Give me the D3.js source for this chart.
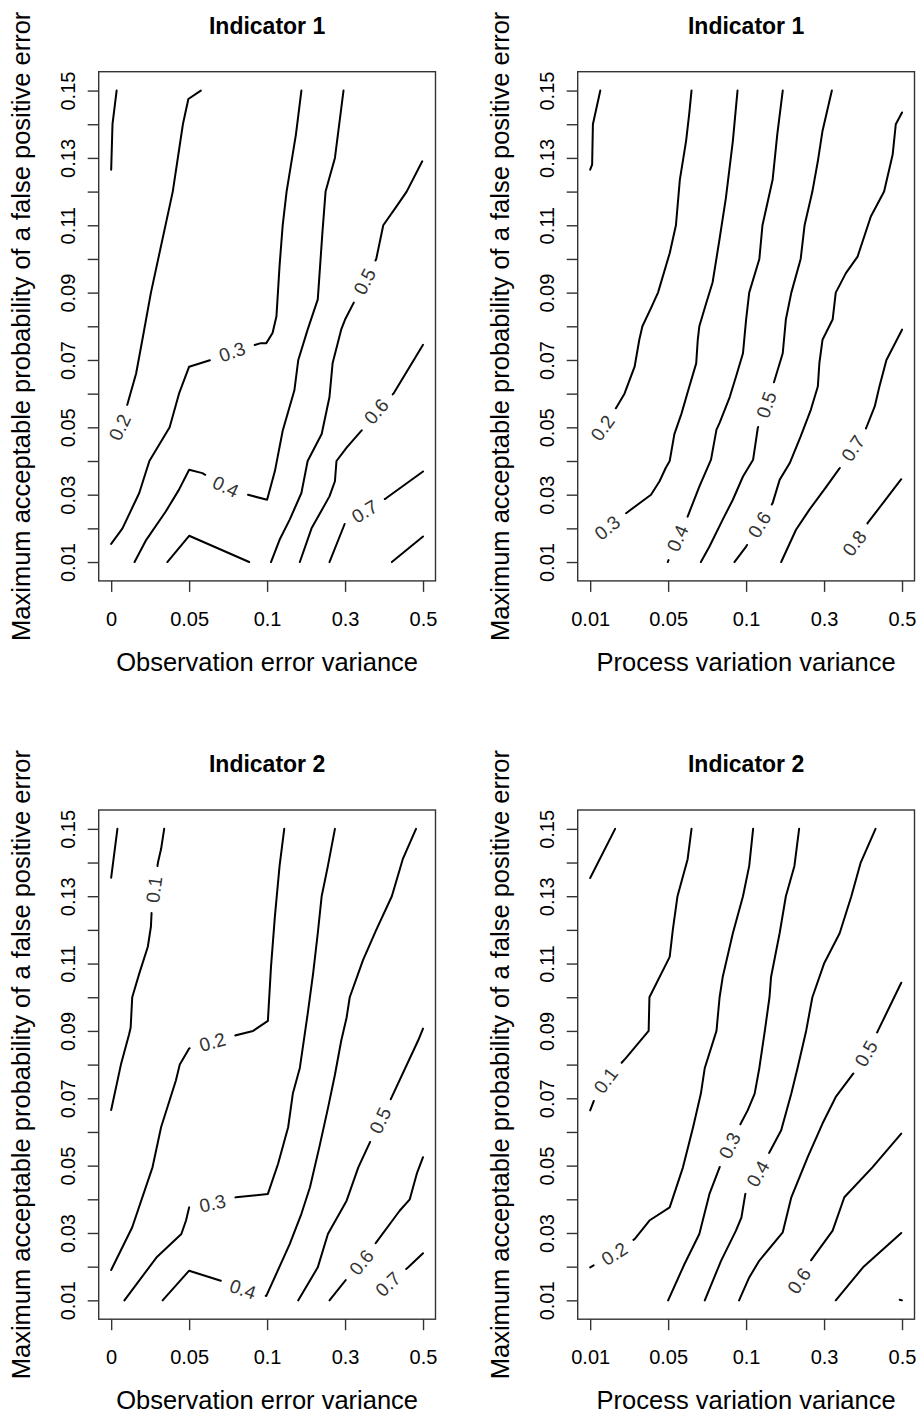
<!DOCTYPE html>
<html>
<head>
<meta charset="utf-8">
<script src="https://cdn.jsdelivr.net/npm/d3@7"></script>
<style>
  body { margin: 0; background: #fff; }
  svg { display: block; font-family: "Liberation Sans", Arial, sans-serif; }
</style>
</head>
<body>
<script>
// axis ticks (x is an index over the variance grid)
const xTickIndex = [0, 1, 2, 3, 4];
const obsTickLabels = ["0", "0.05", "0.1", "0.3", "0.5"];
const procTickLabels = ["0.01", "0.05", "0.1", "0.3", "0.5"];
const yTicks = [0.01, 0.02, 0.03, 0.04, 0.05, 0.06, 0.07, 0.08, 0.09, 0.10, 0.11, 0.12, 0.13, 0.14, 0.15];
const yLabelled = [0.01, 0.03, 0.05, 0.07, 0.09, 0.11, 0.13, 0.15];

const titles = ["Indicator 1", "Indicator 1", "Indicator 2", "Indicator 2"];
const xTitles = ["Observation error variance", "Process variation variance",
                 "Observation error variance", "Process variation variance"];
const yTitle = "Maximum acceptable probability of a false positive error";

// contour lines: [x index, probability]; lab = vertex where the label sits
const obsInd1 = [
  {level: 0.1, lab: null, pts: [[0.07,0.15],[0.017,0.14],[0,0.1265]]},
  {level: 0.2, lab: 8, pts: [[1.15,0.15],[0.99,0.1475],[0.92,0.14],[0.79,0.12],[0.51,0.09],[0.40,0.076],[0.32,0.066],[0.21,0.057],[0.11,0.05],[0,0.046]]},
  {level: 0.3, lab: 9, pts: [[2.44,0.15],[2.37,0.137],[2.25,0.12],[2.2,0.11],[2.16,0.098],[2.12,0.083],[2.07,0.078],[1.99,0.075],[1.92,0.075],[1.55,0.0724],[1.28,0.07],[1.0,0.068],[0.87,0.06],[0.75,0.05],[0.49,0.04],[0.36,0.0305],[0.145,0.02],[0,0.0154]]},
  {level: 0.4, lab: 12, pts: [[2.98,0.15],[2.87,0.13],[2.75,0.12],[2.71,0.108],[2.65,0.088],[2.52,0.079],[2.40,0.07],[2.35,0.061],[2.2,0.049],[2.1,0.037],[2.0,0.0285],[1.75,0.03],[1.47,0.0324],[1.17,0.0364],[1.0,0.0374],[0.87,0.0315],[0.70,0.025],[0.45,0.0166],[0.3,0.01]]},
  {level: 0.5, lab: null, pts: [[0.72,0.01],[1.0,0.0178],[1.77,0.01]]},
  {level: 0.5, lab: 5, pts: [[3.99,0.129],[3.79,0.12],[3.66,0.1156],[3.49,0.11],[3.40,0.1],[3.25,0.0933],[3.12,0.0874],[3.0,0.082],[2.95,0.079],[2.84,0.069],[2.8,0.059],[2.7,0.048],[2.52,0.04],[2.44,0.0305],[2.29,0.0226],[2.16,0.0166],[2.05,0.01]]},
  {level: 0.6, lab: 2, pts: [[4,0.0745],[3.62,0.06],[3.4,0.0547],[3.21,0.049],[3.02,0.044],[2.89,0.04],[2.87,0.034],[2.8,0.0295],[2.57,0.02],[2.42,0.01]]},
  {level: 0.7, lab: 2, pts: [[4,0.0369],[3.53,0.029],[3.25,0.025],[3.0,0.0216],[2.8,0.01]]},
  {level: 0.8, lab: null, pts: [[4,0.0176],[3.6,0.01]]}
];

const procInd1 = [
  {level: 0.1, lab: null, pts: [[0.13,0.15],[0.035,0.14],[0.025,0.128],[0,0.1265]]},
  {level: 0.2, lab: 13, pts: [[1.3,0.15],[1.27,0.143],[1.23,0.135],[1.15,0.1235],[1.1,0.11],[1.02,0.1017],[0.87,0.09],[0.78,0.0854],[0.67,0.08],[0.63,0.076],[0.57,0.068],[0.44,0.06],[0.33,0.0557],[0.16,0.0498],[0,0.045]]},
  {level: 0.3, lab: 17, pts: [[1.89,0.15],[1.83,0.135],[1.74,0.118],[1.66,0.106],[1.57,0.093],[1.49,0.087],[1.4,0.08],[1.38,0.076],[1.36,0.069],[1.27,0.062],[1.17,0.054],[1.08,0.048],[1.02,0.04],[0.97,0.038],[0.89,0.034],[0.78,0.03],[0.46,0.0245],[0.22,0.0202],[0,0.0158]]},
  {level: 0.4, lab: 15, pts: [[2.47,0.15],[2.4,0.137],[2.34,0.1235],[2.21,0.11],[2.17,0.1],[2.04,0.09],[2.0,0.082],[1.96,0.072],[1.87,0.065],[1.79,0.059],[1.66,0.0513],[1.62,0.0493],[1.55,0.0404],[1.4,0.0324],[1.25,0.0235],[1.12,0.0171],[0.995,0.01]]},
  {level: 0.5, lab: 10, pts: [[3.1,0.15],[2.98,0.138],[2.92,0.129],[2.85,0.12],[2.75,0.11],[2.7,0.1],[2.58,0.09],[2.51,0.082],[2.47,0.072],[2.36,0.0636],[2.26,0.0567],[2.15,0.0498],[2.09,0.0404],[1.96,0.0354],[1.83,0.0285],[1.7,0.0226],[1.53,0.0146],[1.42,0.01]]},
  {level: 0.6, lab: 17, pts: [[4,0.1435],[3.92,0.14],[3.88,0.131],[3.77,0.12],[3.6,0.1126],[3.43,0.1007],[3.28,0.0958],[3.15,0.09],[3.11,0.082],[2.98,0.076],[2.94,0.0691],[2.92,0.0621],[2.83,0.0552],[2.7,0.0473],[2.56,0.0394],[2.43,0.0344],[2.34,0.0275],[2.17,0.0211],[2.0,0.0146],[1.85,0.01]]},
  {level: 0.7, lab: 5, pts: [[4,0.079],[3.8,0.07],[3.71,0.0621],[3.65,0.0562],[3.54,0.0498],[3.37,0.0438],[3.2,0.0379],[3.03,0.0324],[2.81,0.0255],[2.64,0.0196],[2.45,0.01]]},
  {level: 0.8, lab: 2, pts: [[3.99,0.0346],[3.56,0.0216],[3.39,0.0156],[3.28,0.0128]]}
];

const obsInd2 = [
  {level: 0.0, lab: null, pts: [[0.08,0.15],[0,0.1355]]},
  {level: 0.1, lab: 3, pts: [[0.68,0.15],[0.64,0.144],[0.6,0.14],[0.55,0.132],[0.52,0.126],[0.51,0.121],[0.47,0.115],[0.36,0.107],[0.27,0.1],[0.25,0.091],[0.23,0.089],[0.125,0.08],[0,0.0665]]},
  {level: 0.2, lab: 7, pts: [[2.22,0.15],[2.16,0.139],[2.1,0.124],[2.05,0.109],[2.01,0.093],[1.82,0.09],[1.6,0.0887],[1.3,0.0867],[1.0,0.0848],[0.88,0.08],[0.83,0.0753],[0.64,0.0614],[0.53,0.0495],[0.27,0.0317],[0,0.019]]},
  {level: 0.3, lab: 12, pts: [[2.87,0.15],[2.78,0.139],[2.7,0.13],[2.65,0.119],[2.59,0.107],[2.52,0.095],[2.42,0.079],[2.33,0.0714],[2.27,0.0614],[2.14,0.0505],[2.01,0.0416],[1.6,0.0406],[1.3,0.0388],[1.0,0.0376],[0.96,0.0337],[0.9,0.0297],[0.58,0.0227],[0.17,0.01]]},
  {level: 0.4, lab: 15, pts: [[3.91,0.15],[3.74,0.141],[3.6,0.13],[3.4,0.12],[3.23,0.111],[3.06,0.1],[3.02,0.094],[2.95,0.087],[2.87,0.077],[2.78,0.067],[2.67,0.0555],[2.55,0.0436],[2.44,0.0357],[2.29,0.0267],[1.99,0.0113],[1.69,0.0133],[1.41,0.0158],[1.0,0.0188],[0.66,0.01]]},
  {level: 0.5, lab: 3, pts: [[4,0.0907],[3.94,0.0873],[3.6,0.0704],[3.45,0.0634],[3.32,0.057],[3.17,0.0495],[3.02,0.0396],[2.78,0.0297],[2.65,0.0198],[2.4,0.01]]},
  {level: 0.6, lab: 5, pts: [[4,0.0525],[3.92,0.0476],[3.83,0.04],[3.7,0.0366],[3.4,0.0272],[3.21,0.0213],[3.0,0.0158],[2.8,0.01]]},
  {level: 0.7, lab: 2, pts: [[4,0.024],[3.81,0.0198],[3.55,0.0148],[3.4,0.011]]}
];

const procInd2 = [
  {level: 0.0, lab: null, pts: [[0.32,0.15],[0,0.1354]]},
  {level: 0.1, lab: 8, pts: [[1.3,0.15],[1.25,0.141],[1.12,0.13],[1.06,0.12],[1.02,0.112],[0.76,0.1],[0.75,0.09],[0.46,0.082],[0.2,0.0753],[0.05,0.0694],[0,0.0664]]},
  {level: 0.2, lab: 14, pts: [[2.09,0.15],[2.04,0.139],[1.96,0.13],[1.83,0.119],[1.7,0.106],[1.66,0.1],[1.62,0.09],[1.47,0.079],[1.42,0.0714],[1.32,0.0614],[1.19,0.0495],[1.02,0.0376],[0.76,0.0337],[0.57,0.0282],[0.31,0.0238],[0,0.0198]]},
  {level: 0.3, lab: 11, pts: [[2.68,0.15],[2.62,0.139],[2.51,0.13],[2.43,0.119],[2.32,0.106],[2.3,0.1],[2.24,0.09],[2.17,0.079],[2.11,0.0714],[2.02,0.0664],[1.94,0.0629],[1.79,0.056],[1.66,0.0495],[1.53,0.0416],[1.4,0.0297],[1.21,0.0208],[1.0,0.01]]},
  {level: 0.4, lab: 11, pts: [[3.66,0.15],[3.47,0.14],[3.35,0.13],[3.2,0.119],[3.0,0.11],[2.85,0.1],[2.77,0.09],[2.66,0.079],[2.58,0.0714],[2.45,0.0605],[2.3,0.054],[2.15,0.0476],[1.99,0.0416],[1.94,0.0346],[1.87,0.0307],[1.68,0.0218],[1.47,0.01]]},
  {level: 0.5, lab: 2, pts: [[3.99,0.1043],[3.69,0.09],[3.54,0.0833],[3.39,0.0778],[3.15,0.0704],[2.98,0.0625],[2.79,0.0525],[2.58,0.0406],[2.47,0.0302],[2.17,0.0218],[2.04,0.0168],[1.91,0.01]]},
  {level: 0.6, lab: 5, pts: [[3.99,0.0595],[3.62,0.0495],[3.26,0.0406],[3.11,0.0307],[2.83,0.0218],[2.68,0.0158],[2.56,0.0122]]},
  {level: 0.7, lab: null, pts: [[3.99,0.03],[3.5,0.0198],[3.15,0.01]]},
  {level: 0.8, lab: null, pts: [[3.97,0.0102],[4.0,0.01]]}
];

let width = 920,
    height = 1416;

// panel geometry (R style: 4% extension round the data range)
let colLeft = [98.7, 577.7],
    rowTop = [71.7, 810],
    pw = 336.8,
    ph = 509.2;

let panels = [
  {title: titles[0], xlab: xTitles[0], xticks: obsTickLabels, contours: obsInd1, col: 0, row: 0},
  {title: titles[1], xlab: xTitles[1], xticks: procTickLabels, contours: procInd1, col: 1, row: 0},
  {title: titles[2], xlab: xTitles[2], xticks: obsTickLabels, contours: obsInd2, col: 0, row: 1},
  {title: titles[3], xlab: xTitles[3], xticks: procTickLabels, contours: procInd2, col: 1, row: 1}
];

let svg = d3.select("body").append("svg")
    .attr("width", width)
    .attr("height", height);

let line = d3.line();

function drawPath(g, pts) {
    if (pts.length < 2) return;
    g.append("path")
        .attr("d", line(pts))
        .attr("fill", "none")
        .attr("stroke", "#000")
        .attr("stroke-width", 2)
        .attr("stroke-linejoin", "round")
        .attr("stroke-linecap", "round");
}

function cumLen(pts) {
    let L = [0];
    for (let i = 1; i < pts.length; i++) {
        L.push(L[i - 1] + Math.hypot(pts[i][0] - pts[i - 1][0], pts[i][1] - pts[i - 1][1]));
    }
    return L;
}

function pointAt(pts, L, s) {
    s = Math.max(0, Math.min(L[L.length - 1], s));
    for (let i = 0; i < pts.length - 1; i++) {
        if (s <= L[i + 1]) {
            let t = (s - L[i]) / ((L[i + 1] - L[i]) || 1);
            return [pts[i][0] + t * (pts[i + 1][0] - pts[i][0]), pts[i][1] + t * (pts[i + 1][1] - pts[i][1])];
        }
    }
    return pts[pts.length - 1];
}

panels.forEach(function (p) {
    let left = colLeft[p.col],
        top = rowTop[p.row];

    let x = d3.scaleLinear().domain([-0.16, 4.16]).range([left, left + pw]);
    let y = d3.scaleLinear().domain([0.0044, 0.1556]).range([top + ph, top]);

    let g = svg.append("g");

    // contour lines, broken where the label sits
    p.contours.forEach(function (c) {
        let pts = c.pts.map(d => [x(d[0]), y(d[1])]);
        if (c.lab == null) {
            drawPath(g, pts);
            return;
        }
        let L = cumLen(pts),
            total = L[L.length - 1];

        let t = g.append("text")
            .attr("font-size", 19)
            .attr("fill", "#333")
            .attr("text-anchor", "middle")
            .attr("dy", "0.35em")
            .text(d3.format(".1f")(c.level));
        let w = t.node().getComputedTextLength();

        let s0 = L[c.lab],
            half = w / 2 + 10.5,
            a = s0 - half,
            b = s0 + half;

        let part1 = pts.filter((d, i) => L[i] < a);
        if (a > 0) part1.push(pointAt(pts, L, a));
        let part2 = [];
        if (b < total) {
            part2.push(pointAt(pts, L, b));
            pts.forEach((d, i) => { if (L[i] > b) part2.push(d) });
        }
        drawPath(g, part1);
        drawPath(g, part2);

        let c0 = pointAt(pts, L, s0),
            p1 = pointAt(pts, L, s0 - w / 2),
            p2 = pointAt(pts, L, s0 + w / 2);
        let ang = Math.atan2(p2[1] - p1[1], p2[0] - p1[0]) * 180 / Math.PI;
        if (ang > 90) ang -= 180;
        if (ang < -90) ang += 180;
        t.attr("transform", `translate(${c0[0]},${c0[1]}) rotate(${ang})`);
    });

    // box
    g.append("rect")
        .attr("x", left)
        .attr("y", top)
        .attr("width", pw)
        .attr("height", ph)
        .attr("fill", "none")
        .attr("stroke", "#333")
        .attr("stroke-width", 1.4);

    // y axis
    let yAxis = d3.axisLeft(y)
        .tickValues(yTicks)
        .tickSize(11)
        .tickFormat(d => yLabelled.includes(d) ? d3.format(".2f")(d) : "");

    g.append("g")
        .attr("transform", `translate(${left},0)`)
        .call(yAxis)
        .attr("font-size", null)
        .attr("font-family", null)
        .attr("color", "#333")
        .call(a => a.select(".domain").remove())
        .call(a => a.selectAll(".tick line").attr("stroke-width", 1.4))
        .call(a => a.selectAll("text")
            .attr("x", null)
            .attr("dy", null)
            .attr("text-anchor", "middle")
            .attr("transform", "translate(-23.7,0) rotate(-90)")
            .attr("font-size", 20)
            .attr("fill", "#000"));

    // x axis
    let xAxis = d3.axisBottom(x)
        .tickValues(xTickIndex)
        .tickSize(11)
        .tickFormat(i => p.xticks[i]);

    g.append("g")
        .attr("transform", `translate(0,${top + ph})`)
        .call(xAxis)
        .attr("font-size", null)
        .attr("font-family", null)
        .attr("color", "#333")
        .call(a => a.select(".domain").remove())
        .call(a => a.selectAll(".tick line").attr("stroke-width", 1.4))
        .call(a => a.selectAll("text")
            .attr("y", 45)
            .attr("dy", null)
            .attr("font-size", 20)
            .attr("fill", "#000"));

    // titles
    g.append("text")
        .attr("x", left + pw / 2)
        .attr("y", top - 37.7)
        .attr("text-anchor", "middle")
        .attr("font-weight", "bold")
        .attr("font-size", 23)
        .text(p.title);

    g.append("text")
        .attr("x", left + pw / 2)
        .attr("y", top + ph + 90)
        .attr("text-anchor", "middle")
        .attr("font-size", 25.5)
        .text(p.xlab);

    g.append("text")
        .attr("transform", `translate(${left - 68.7},${top + ph / 2}) rotate(-90)`)
        .attr("text-anchor", "middle")
        .attr("font-size", 25.5)
        .text(yTitle);
});
</script>
</body>
</html>
